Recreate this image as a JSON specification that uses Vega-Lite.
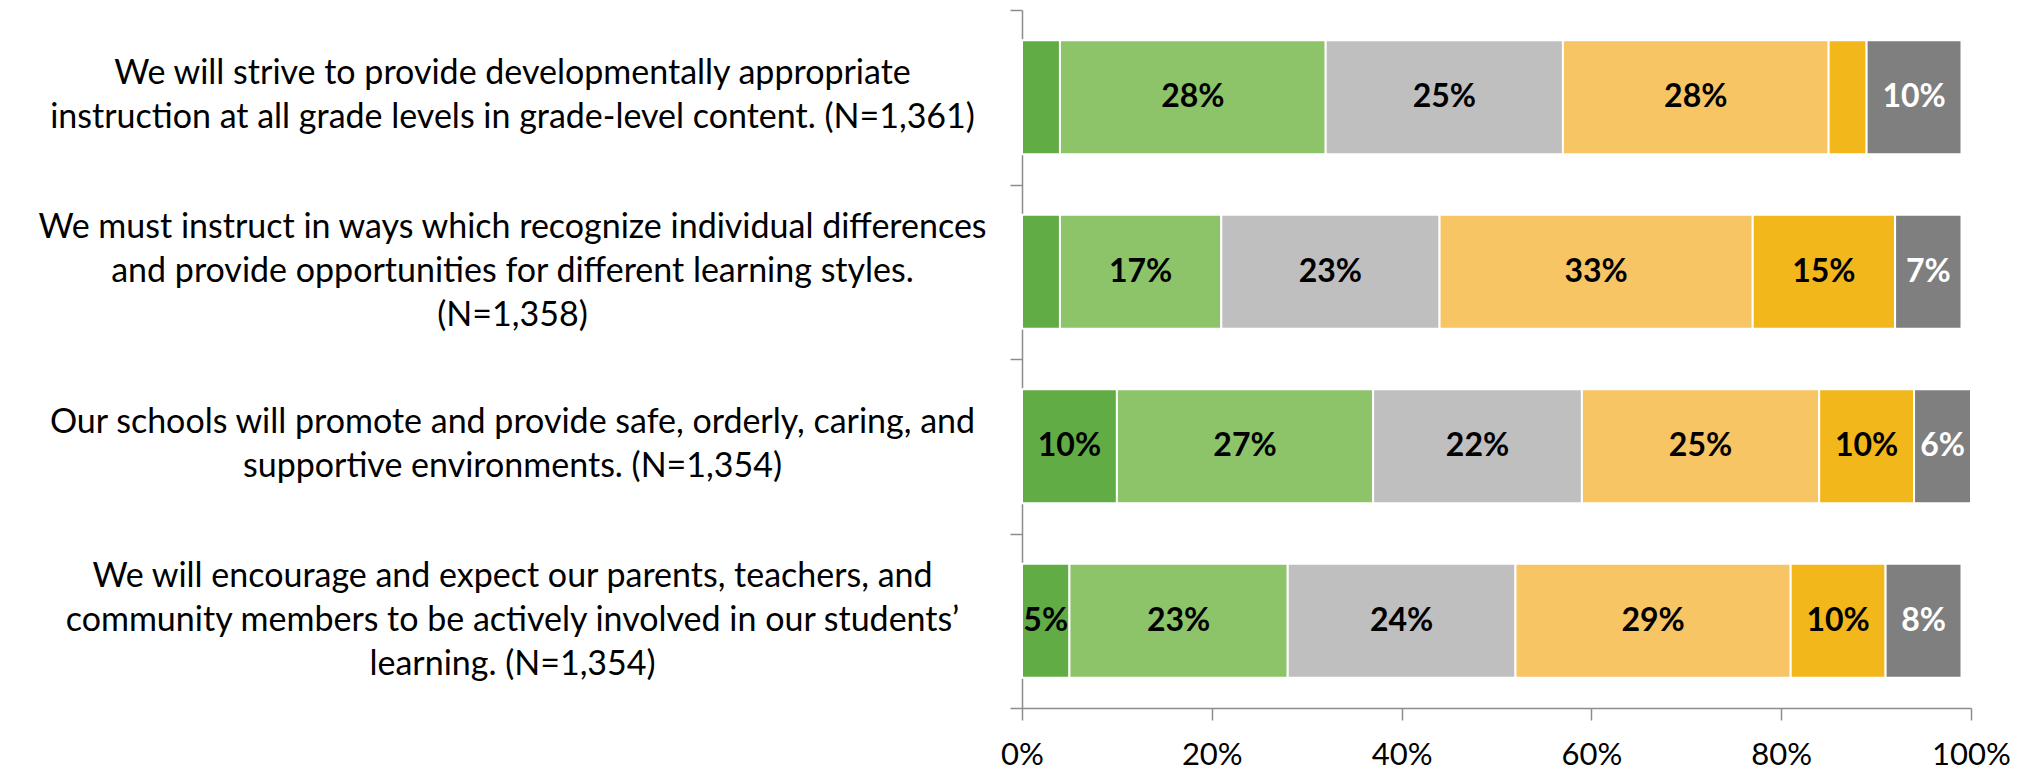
{
  "$schema": "https://vega.github.io/schema/vega-lite/v6.json",
  "width": 949,
  "height": 698,
  "autosize": {"type": "none"},
  "padding": {"left": 1022, "top": 10, "right": 58, "bottom": 64},
  "background": "white",
  "config": {"view": {"stroke": null}},
  "data": {
    "values": [
      {"item": "We will strive to provide developmentally appropriate|instruction at all grade levels in grade-level content. (N=1,361)", "k": 1, "level": "Level 1", "pct": 0.04},
      {"item": "We will strive to provide developmentally appropriate|instruction at all grade levels in grade-level content. (N=1,361)", "k": 2, "level": "Level 2", "pct": 0.28},
      {"item": "We will strive to provide developmentally appropriate|instruction at all grade levels in grade-level content. (N=1,361)", "k": 3, "level": "Level 3", "pct": 0.25},
      {"item": "We will strive to provide developmentally appropriate|instruction at all grade levels in grade-level content. (N=1,361)", "k": 4, "level": "Level 4", "pct": 0.28},
      {"item": "We will strive to provide developmentally appropriate|instruction at all grade levels in grade-level content. (N=1,361)", "k": 5, "level": "Level 5", "pct": 0.04},
      {"item": "We will strive to provide developmentally appropriate|instruction at all grade levels in grade-level content. (N=1,361)", "k": 6, "level": "Level 6", "pct": 0.10},
      {"item": "We must instruct in ways which recognize individual differences|and provide opportunities for different learning styles.|(N=1,358)", "k": 1, "level": "Level 1", "pct": 0.04},
      {"item": "We must instruct in ways which recognize individual differences|and provide opportunities for different learning styles.|(N=1,358)", "k": 2, "level": "Level 2", "pct": 0.17},
      {"item": "We must instruct in ways which recognize individual differences|and provide opportunities for different learning styles.|(N=1,358)", "k": 3, "level": "Level 3", "pct": 0.23},
      {"item": "We must instruct in ways which recognize individual differences|and provide opportunities for different learning styles.|(N=1,358)", "k": 4, "level": "Level 4", "pct": 0.33},
      {"item": "We must instruct in ways which recognize individual differences|and provide opportunities for different learning styles.|(N=1,358)", "k": 5, "level": "Level 5", "pct": 0.15},
      {"item": "We must instruct in ways which recognize individual differences|and provide opportunities for different learning styles.|(N=1,358)", "k": 6, "level": "Level 6", "pct": 0.07},
      {"item": "Our schools will promote and provide safe, orderly, caring, and|supportive environments. (N=1,354)", "k": 1, "level": "Level 1", "pct": 0.10},
      {"item": "Our schools will promote and provide safe, orderly, caring, and|supportive environments. (N=1,354)", "k": 2, "level": "Level 2", "pct": 0.27},
      {"item": "Our schools will promote and provide safe, orderly, caring, and|supportive environments. (N=1,354)", "k": 3, "level": "Level 3", "pct": 0.22},
      {"item": "Our schools will promote and provide safe, orderly, caring, and|supportive environments. (N=1,354)", "k": 4, "level": "Level 4", "pct": 0.25},
      {"item": "Our schools will promote and provide safe, orderly, caring, and|supportive environments. (N=1,354)", "k": 5, "level": "Level 5", "pct": 0.10},
      {"item": "Our schools will promote and provide safe, orderly, caring, and|supportive environments. (N=1,354)", "k": 6, "level": "Level 6", "pct": 0.06},
      {"item": "We will encourage and expect our parents, teachers, and|community members to be actively involved in our students’|learning. (N=1,354)", "k": 1, "level": "Level 1", "pct": 0.05},
      {"item": "We will encourage and expect our parents, teachers, and|community members to be actively involved in our students’|learning. (N=1,354)", "k": 2, "level": "Level 2", "pct": 0.23},
      {"item": "We will encourage and expect our parents, teachers, and|community members to be actively involved in our students’|learning. (N=1,354)", "k": 3, "level": "Level 3", "pct": 0.24},
      {"item": "We will encourage and expect our parents, teachers, and|community members to be actively involved in our students’|learning. (N=1,354)", "k": 4, "level": "Level 4", "pct": 0.29},
      {"item": "We will encourage and expect our parents, teachers, and|community members to be actively involved in our students’|learning. (N=1,354)", "k": 5, "level": "Level 5", "pct": 0.10},
      {"item": "We will encourage and expect our parents, teachers, and|community members to be actively involved in our students’|learning. (N=1,354)", "k": 6, "level": "Level 6", "pct": 0.08}
    ]
  },
  "encoding": {
    "y": {
      "field": "item",
      "type": "nominal",
      "sort": null,
      "scale": {"paddingInner": 0, "paddingOuter": 0},
      "axis": {
        "title": null,
        "labelExpr": "split(datum.label, '|')",
        "labelAlign": "center",
        "labelBaseline": "middle",
        "labelFont": "Lato",
        "labelFontSize": 34,
        "labelLineHeight": 44,
        "labelColor": "black",
        "labelLimit": 1100,
        "labelPadding": 498,
        "labelOffset": {"condition": {"test": "length(split(datum.label, '|')) == 3", "value": -44}, "value": -24},
        "tickSize": 12,
        "tickBand": "extent",
        "tickColor": "#8c8c8c",
        "tickWidth": 1.5,
        "domainColor": "#8c8c8c",
        "domainWidth": 1.5
      }
    }
  },
  "layer": [
    {
      "mark": {"type": "bar", "stroke": "white", "strokeWidth": 2, "height": {"band": 0.653}},
      "encoding": {
        "x": {
          "field": "pct",
          "type": "quantitative",
          "stack": "zero",
          "scale": {"domain": [0, 1]},
          "axis": {
            "title": null,
            "values": [0, 0.2, 0.4, 0.6, 0.8, 1],
            "format": ".0%",
            "grid": false,
            "tickSize": 12,
            "tickColor": "#8c8c8c",
            "tickWidth": 1.5,
            "domainColor": "#8c8c8c",
            "domainWidth": 1.5,
            "labelFont": "Lato",
            "labelFontSize": 31,
            "labelColor": "black",
            "labelPadding": 20,
            "labelFlush": false
          }
        },
        "color": {
          "field": "level",
          "type": "nominal",
          "legend": null,
          "scale": {
            "domain": ["Level 1", "Level 2", "Level 3", "Level 4", "Level 5", "Level 6"],
            "range": ["#62ac45", "#8dc469", "#bfbfbf", "#f7c564", "#f2b71b", "#7f7f7f"]
          }
        },
        "order": {"field": "k", "type": "quantitative"}
      }
    },
    {
      "mark": {"type": "text", "font": "Lato", "fontWeight": "bold", "fontSize": 32, "align": "center", "baseline": "middle"},
      "encoding": {
        "x": {"field": "pct", "type": "quantitative", "stack": "zero", "bandPosition": 0.5},
        "detail": {"field": "level", "type": "nominal"},
        "order": {"field": "k", "type": "quantitative"},
        "text": {"field": "pct", "type": "quantitative", "format": ".0%", "condition": {"test": "datum.pct < 0.045", "value": ""}},
        "color": {"condition": {"test": "datum.k == 6", "value": "white"}, "value": "black"}
      }
    }
  ]
}
